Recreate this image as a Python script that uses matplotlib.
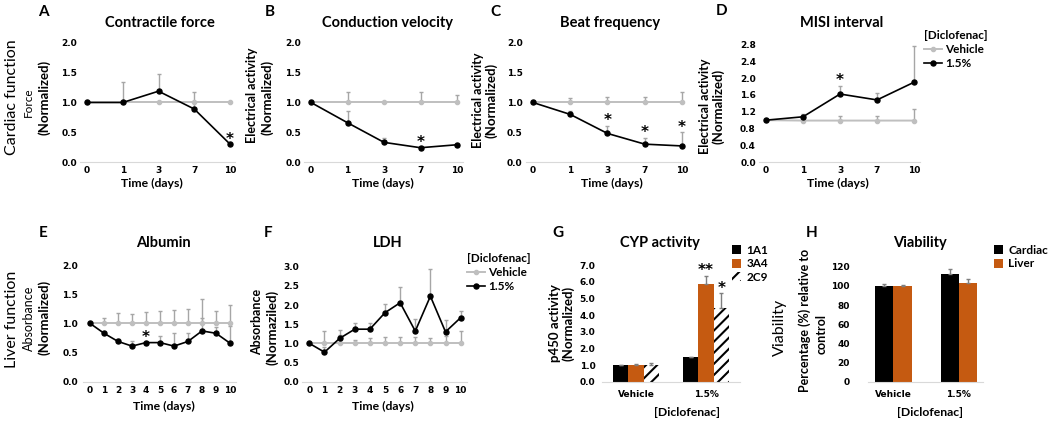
import matplotlib
matplotlib.use('Agg')
import matplotlib.pyplot as plt
from matplotlib.patches import Patch
from matplotlib.lines import Line2D

W, H = 1050, 423

# ---- data ----
time_top = ['0', '1', '3', '7', '10']
time_bottom = [0, 1, 2, 3, 4, 5, 6, 7, 8, 9, 10]

force_veh = [1.0, 1.0, 1.0, 1.0, 1.0]
force_veh_err = [0, 0, 0, 0, 0]
force_dic = [1.0, 1.0, 1.19, 0.89, 0.30]
force_dic_err = [0, 0.35, 0.29, 0.28, 0]
force_stars = [4]

cv_veh = [1.0, 1.0, 1.0, 1.0, 1.0]
cv_veh_err = [0, 0.17, 0, 0.17, 0.13]
cv_dic = [1.0, 0.66, 0.33, 0.24, 0.29]
cv_dic_err = [0, 0.2, 0.08, 0, 0]
cv_stars = [3]

bf_veh = [1.0, 1.0, 1.0, 1.0, 1.0]
bf_veh_err = [0, 0.07, 0.1, 0.1, 0.17]
bf_dic = [1.0, 0.80, 0.48, 0.30, 0.27]
bf_dic_err = [0, 0.06, 0.13, 0.11, 0.23]
bf_stars = [2, 3, 4]

misi_veh = [1.0, 0.99, 0.99, 0.99, 0.99]
misi_veh_err = [0, 0.03, 0.12, 0.1, 0.27]
misi_dic = [1.0, 1.08, 1.62, 1.48, 1.90]
misi_dic_err = [0, 0.07, 0.2, 0.17, 0.87]
misi_stars = [2]

alb_veh = [1.0] * 11
alb_veh_err = [0, 0.10, 0.18, 0.16, 0.19, 0.21, 0.23, 0.24, 0.42, 0.21, 0.31]
alb_dic = [1.0, 0.83, 0.69, 0.61, 0.67, 0.67, 0.61, 0.69, 0.87, 0.83, 0.66]
alb_dic_err = [0, 0, 0.05, 0.08, 0, 0.11, 0.23, 0.15, 0.23, 0.1, 0.29]
alb_stars = [4]

ldh_veh = [1.0] * 11
ldh_veh_err = [0, 0.32, 0.22, 0.1, 0.13, 0.16, 0.16, 0.16, 0.15, 0.2, 0.33]
ldh_dic = [1.0, 0.77, 1.13, 1.37, 1.37, 1.80, 2.06, 1.32, 2.23, 1.30, 1.67]
ldh_dic_err = [0, 0.13, 0.22, 0.17, 0.17, 0.24, 0.42, 0.31, 0.71, 0.31, 0.18]

groups = ['Vehicle', '1.5%']
cyp_names = ['1A1', '3A4', '2C9']
cyp_1a1 = [1.0, 1.5]
cyp_1a1_err = [0, 0]
cyp_3a4 = [1.0, 5.85]
cyp_3a4_err = [0.08, 0.5]
cyp_2c9 = [0.98, 4.4]
cyp_2c9_err = [0.14, 0.9]

via_cardiac = [100, 112]
via_cardiac_err = [1.5, 6]
via_liver = [100, 102.5]
via_liver_err = [0.5, 4.5]

# ---- styling ----
plt.rcParams['font.family'] = 'Lato'
plt.rcParams['hatch.linewidth'] = 1.5
GRAY = '#BFBFBF'
ERR = '#A6A6A6'
ORANGE = '#C55A11'
TICK = dict(family='DejaVu Sans', weight='bold', size=6.5)
LEG = dict(weight='bold', size=8.5)

fig = plt.figure(figsize=(W / 100, H / 100), dpi=100)


def add_ax(left, right, top, bottom):
    return fig.add_axes([left / W, 1 - bottom / H, (right - left) / W, (bottom - top) / H])


def txt(x, y, s, size=9, weight='bold', rot=0, **kw):
    fig.text(x / W, 1 - y / H, s, ha='center', va='center', fontsize=size,
             fontweight=weight, rotation=rot, **kw)


def style(ax, yticks, fmt, ypad, xlim, ylim):
    for s in ['top', 'right', 'left']:
        ax.spines[s].set_visible(False)
    ax.spines['bottom'].set_color('#D9D9D9')
    ax.set_xlim(*xlim)
    ax.set_ylim(*ylim)
    ax.tick_params(length=0)
    ax.tick_params(axis='y', pad=ypad)
    ax.tick_params(axis='x', pad=3)
    ax.set_yticks(yticks)
    ax.set_yticklabels([fmt % v for v in yticks], fontdict=TICK)


def star(ax, x, y, s='*'):
    ax.annotate(s, (x, y), xytext=(0, 3.5), textcoords='offset points',
                ha='center', va='center', fontsize=11, fontweight='bold', family='DejaVu Sans')


def lines(ax, x, veh, veh_err, dic, dic_err, stars):
    zero = [0] * len(x)
    ax.errorbar(x, veh, yerr=[zero, veh_err], color=GRAY, ecolor=ERR, lw=1.4,
                marker='o', ms=3, capsize=1.6, elinewidth=1, capthick=1, clip_on=False)
    ax.errorbar(x, dic, yerr=[zero, dic_err], color='black', ecolor=ERR, lw=1.2,
                marker='o', ms=3.6, capsize=1.6, elinewidth=1, capthick=1, clip_on=False)
    for i in stars:
        star(ax, x[i], dic[i] + dic_err[i])


def line_legend(ax, x, y):
    handles = [Line2D([0], [0], color=GRAY, marker='o', ms=3, lw=1.4),
               Line2D([0], [0], color='black', marker='o', ms=3.6, lw=1.2)]
    ax.legend(handles, ['Vehicle', '1.5%'], title='[Diclofenac]', loc='upper left',
              bbox_to_anchor=(x / W, 1 - y / H), bbox_transform=fig.transFigure,
              frameon=False, prop=LEG, title_fontproperties=LEG, alignment='left',
              handlelength=1.5, handletextpad=0.3, labelspacing=0.25, borderpad=0,
              borderaxespad=0)


top_idx = list(range(len(time_top)))

# A
ax = add_ax(79.85, 235.4, 43, 162)
lines(ax, top_idx, force_veh, force_veh_err, force_dic, force_dic_err, force_stars)
style(ax, [0, 0.5, 1.0, 1.5, 2.0], '%.1f', 2, (-0.2, 4.15), (0, 2))
ax.set_xticks(top_idx)
ax.set_xticklabels(time_top, fontdict=TICK)

# B
ax = add_ax(303.7, 462.5, 43, 162)
lines(ax, top_idx, cv_veh, cv_veh_err, cv_dic, cv_dic_err, cv_stars)
style(ax, [0, 0.5, 1.0, 1.5, 2.0], '%.1f', 2, (-0.2, 4.15), (0, 2))
ax.set_xticks(top_idx)
ax.set_xticklabels(time_top, fontdict=TICK)

# C
ax = add_ax(525.5, 687.6, 43, 162)
lines(ax, top_idx, bf_veh, bf_veh_err, bf_dic, bf_dic_err, bf_stars)
style(ax, [0, 0.5, 1.0, 1.5, 2.0], '%.1f', 2, (-0.2, 4.15), (0, 2))
ax.set_xticks(top_idx)
ax.set_xticklabels(time_top, fontdict=TICK)

# D
ax = add_ax(758.6, 919.6, 44.3, 162.3)
lines(ax, top_idx, misi_veh, misi_veh_err, misi_dic, misi_dic_err, misi_stars)
style(ax, [0, 0.4, 0.8, 1.2, 1.6, 2.0, 2.4, 2.8], '%.1f', 2, (-0.2, 4.15), (0, 2.8))
ax.set_xticks(top_idx)
ax.set_xticklabels(time_top, fontdict=TICK)
line_legend(ax, 924, 30)

# E
ax = add_ax(83, 235.6, 265, 381.7)
lines(ax, time_bottom, alb_veh, alb_veh_err, alb_dic, alb_dic_err, alb_stars)
style(ax, [0, 0.5, 1.0, 1.5, 2.0], '%.1f', 3.5, (-0.5, 10.4), (0, 2))
ax.set_xticks(time_bottom)
ax.set_xticklabels([str(t) for t in time_bottom], fontdict=TICK)

# F
ax = add_ax(301.8, 466.7, 266.7, 381.7)
lines(ax, time_bottom, ldh_veh, ldh_veh_err, ldh_dic, ldh_dic_err, [])
style(ax, [0, 0.5, 1.0, 1.5, 2.0, 2.5, 3.0], '%.1f', 2, (-0.5, 10.4), (0, 3))
ax.set_xticks(time_bottom)
ax.set_xticklabels([str(t) for t in time_bottom], fontdict=TICK)
line_legend(ax, 467, 253)

# G
ax = add_ax(601.7, 740.3, 265, 381.7)
gx = [0, 1]
bw = 0.22
ekw = dict(ecolor='#7F7F7F', capsize=1.6, elinewidth=1)
ax.bar([g - bw for g in gx], cyp_1a1, bw, color='black', yerr=[[0, 0], cyp_1a1_err],
       error_kw=ekw, zorder=2)
ax.bar(gx, cyp_3a4, bw, color=ORANGE, yerr=[[0, 0], cyp_3a4_err], error_kw=ekw, zorder=2)
ax.bar([g + bw for g in gx], cyp_2c9, bw, color='white', edgecolor='black', lw=0, hatch='///',
       yerr=[[0, 0], cyp_2c9_err], error_kw=ekw, zorder=2)
star(ax, 1, cyp_3a4[1] + cyp_3a4_err[1], '**')
star(ax, 1 + bw, cyp_2c9[1] + cyp_2c9_err[1])
style(ax, [0, 1, 2, 3, 4, 5, 6, 7], '%.1f', 4.5, (-0.49, 1.49), (0, 7))
ax.set_xticks(gx)
ax.set_xticklabels(groups, fontdict=TICK)
ax.tick_params(axis='x', pad=6)
ax.legend([Patch(facecolor='black'), Patch(facecolor=ORANGE),
           Patch(facecolor='white', edgecolor='black', lw=0, hatch='///')], cyp_names,
          loc='upper left', bbox_to_anchor=(732 / W, 1 - 245 / H), bbox_transform=fig.transFigure,
          frameon=False, prop=LEG, handlelength=0.8, handleheight=0.8,
          handletextpad=0.4, labelspacing=0.2, borderpad=0, borderaxespad=0)

# H
ax = add_ax(868, 983, 266.7, 381.7)
bw = 0.28
ax.bar([g - bw / 2 for g in gx], via_cardiac, bw, color='black', yerr=[[0, 0], via_cardiac_err],
       error_kw=ekw, zorder=2)
ax.bar([g + bw / 2 for g in gx], via_liver, bw, color=ORANGE, yerr=[[0, 0], via_liver_err],
       error_kw=ekw, zorder=2)
style(ax, [0, 20, 40, 60, 80, 100, 120], '%d', 13, (-0.39, 1.37), (0, 120))
ax.set_xticks(gx)
ax.set_xticklabels(groups, fontdict=TICK)
ax.tick_params(axis='x', pad=6)
ax.legend([Patch(facecolor='black'), Patch(facecolor=ORANGE)], ['Cardiac', 'Liver'],
          loc='upper left', bbox_to_anchor=(994 / W, 1 - 245 / H), bbox_transform=fig.transFigure,
          frameon=False, prop=LEG, handlelength=0.8, handleheight=0.8,
          handletextpad=0.4, labelspacing=0.2, borderpad=0, borderaxespad=0)

# ---- titles, letters, axis labels ----
for x, y, s in [(43, 12, 'A'), (270, 12, 'B'), (495, 12, 'C'), (722, 11, 'D'),
                (43, 233, 'E'), (268, 233, 'F'), (558, 233, 'G'), (812, 233, 'H')]:
    txt(x, y, s, size=11)

for x, y, s in [(160, 23, 'Contractile force'), (387, 23, 'Conduction velocity'),
                (610, 23, 'Beat frequency'), (842, 23, 'MISI interval'),
                (163, 243, 'Albumin'), (388, 243, 'LDH'), (660, 243, 'CYP activity'),
                (920, 243, 'Viability')]:
    txt(x, y, s, size=10.5)

for x in [152, 383, 612, 838]:
    txt(x, 183, 'Time (days)', size=8.8)
for x in [164, 383]:
    txt(x, 406, 'Time (days)', size=8.8)
txt(687, 412, '[Diclofenac]', size=8.8)
txt(930, 412, '[Diclofenac]', size=8.8)

# row / axis labels (rotated)
txt(12.5, 97, 'Cardiac function', size=11.5, weight='normal', rot=90)
txt(28, 102, 'Force', size=8.5, weight='normal', rot=90)
txt(44, 97, '(Normalized)', size=9.5, rot=90)
txt(252, 95, 'Electrical activity', size=9, rot=90)
txt(267, 97, '(Normalized)', size=9.5, rot=90)
txt(478, 100, 'Electrical activity', size=9, rot=90)
txt(491, 100, '(Normalized)', size=9.5, rot=90)
txt(705, 106, 'Electrical activity', size=9, rot=90)
txt(718, 106, '(Normalized)', size=9.5, rot=90)

txt(12.5, 319, 'Liver function', size=11.5, weight='normal', rot=90)
txt(29, 318, 'Absorbance', size=9, weight='normal', rot=90)
txt(44, 317, '(Normalized)', size=9.5, rot=90)
txt(257, 322, 'Absorbance', size=9, rot=90)
txt(272, 327, '(Normaziled)', size=9.5, rot=90)
txt(555, 323, 'p450 activity', size=9.5, rot=90)
txt(568, 323, '(Normalized)', size=9.5, rot=90)
txt(780, 327, 'Viability', size=11.5, weight='normal', rot=90)
txt(805, 320, 'Percentage (%) relative to', size=9, rot=90)
txt(822, 334, 'control', size=9, rot=90)

fig.savefig('out.png', dpi=100)
